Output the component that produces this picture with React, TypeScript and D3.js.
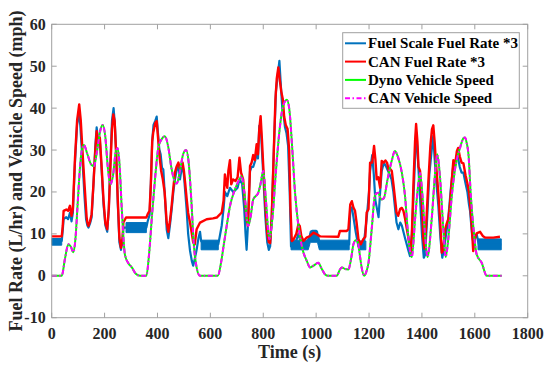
import React from "react";
import * as d3 from "d3";

// ---- data (time s, value) ----
const xTicks = [0, 200, 400, 600, 800, 1000, 1200, 1400, 1600, 1800];
const yTicks = [-10, 0, 10, 20, 30, 40, 50, 60];
const seriesNames = ["Fuel Scale Fuel Rate *3", "CAN Fuel Rate *3", "Dyno Vehicle Speed", "CAN Vehicle Speed"];
const seriesColors = ["#0072BD", "#FF0000", "#00FF00", "#FF00FF"];

const dynoSpeed: [number, number][] = [
  [0,0],[38,0],[50,4],[63,7.5],[72,7],[82,5.6],[90,9],[98,17],[106,25],[114,30],[122,31.2],[135,29],[150,26.5],[160,26.2],[172,30],[185,35],[193,36],[203,33],[212,26],[222,21.8],[232,24],[242,29.5],[249,30.5],[256,27],[265,16],[277,5],[290,3],[303,2],[318,0.5],[334,0],[358,0],[368,5],[380,15],[392,24],[403,30.5],[415,32.5],[428,33.3],[440,31],[452,26],[465,22.5],[473,22],[485,25],[497,29],[508,30],[518,27],[528,18],[538,7],[548,2],[560,0],[628,0],[640,3],[650,7.1],[662,12],[674,16.6],[693,20.6],[710,23],[718,23.8],[728,20],[743,11.9],[752,14],[762,18.2],[781,19.8],[790,22],[800,25],[810,18],[823,8.7],[835,14],[848,25],[862,35],[875,40.5],[889,42],[898,40],[910,30],[920,20],[935,11],[950,6],[965,3.5],[977,2],[992,2.5],[1008,3.1],[1020,1.8],[1034,0.3],[1045,0],[1078,0],[1090,1.5],[1097,2],[1110,1.6],[1122,1.5],[1132,4],[1141,7.5],[1150,8.5],[1158,8],[1165,5],[1172,2],[1181,0],[1190,1],[1198,3.1],[1210,11],[1223,19.3],[1235,19.8],[1246,18.2],[1256,18.5],[1270,23],[1286,27.5],[1298,29.8],[1308,28.6],[1324,24.6],[1336,19.1],[1346,11.1],[1355,5.9],[1362,4.5],[1374,13.5],[1387,22.3],[1393,24.5],[1402,19.1],[1414,8],[1421,4.5],[1437,13.5],[1450,24.6],[1458,29],[1468,23.8],[1481,11.1],[1490,4.5],[1500,9],[1513,19.1],[1525,25.4],[1544,30.5],[1557,32.8],[1563,33],[1570,31.5],[1576,29],[1585,19],[1594,11.9],[1607,5.1],[1626,3.1],[1645,0],[1702,0]
];
const canSpeed: [number, number][] = dynoSpeed;

const canFuel: [number, number][] = [
  [0,9.4],[38,9.4],[42,12],[45,15.5],[55,15.8],[62,15.5],[69,16.7],[75,14.3],[80,16],[88,28],[96,37],[104,40.9],[110,37],[118,28],[126,20],[132,14],[135,12.7],[139,11.9],[145,13],[151,14.7],[158,22],[165,30],[170,34.5],[176,31.6],[182,33],[188,27],[196,18],[203,12.5],[210,11.1],[216,16],[222,26],[228,35],[233,38.5],[238,37],[243,30],[250,18],[256,9],[262,6.7],[268,9],[271,12.7],[281,13.9],[358,13.9],[363,14.7],[370,15.5],[375,22],[380,32],[384,34.2],[392,36.5],[397,36.9],[402,33],[407,29],[414,25],[420,23.1],[427,20],[435,12.7],[441,10.5],[447,13],[454,17],[460,21],[466,24.6],[472,26],[479,27],[485,25.4],[490,26],[495,27],[500,25],[505,22],[510,18.6],[516,15],[523,12.7],[530,10],[535,8],[541,7.5],[545,9.5],[548,11.1],[561,12.7],[586,13.5],[610,13.7],[624,13.9],[637,14.7],[643,15.1],[650,18],[655,24.2],[660,22],[664,21],[668,25],[674,27.6],[679,21.8],[686,23],[695,22.6],[703,23.5],[710,28.2],[716,24.6],[724,23],[730,18],[737,13.5],[742,11.9],[746,18],[750,26.2],[756,27],[762,28.8],[768,27.6],[775,31.4],[780,29],[785,35],[790,38.1],[795,32.5],[800,26.2],[808,17],[815,10],[821,8],[826,7.8],[832,14],[840,30],[846,42],[851,47],[857,49.7],[862,47],[868,44],[874,42.1],[879,38],[885,36],[892,35],[898,30],[903,16],[908,8.3],[915,8.7],[925,10],[933,12.3],[938,11.9],[944,9.5],[952,8.3],[964,9.1],[977,9.5],[990,10.3],[1002,9.9],[1015,9.4],[1084,9.3],[1090,10.7],[1116,10.7],[1122,11.1],[1129,17],[1135,17.8],[1141,16.3],[1147,15.5],[1153,12.7],[1160,8.7],[1169,7.5],[1178,8.7],[1186,9.3],[1191,15.1],[1198,15.9],[1204,27],[1212,27],[1219,31],[1224,27.8],[1229,23],[1235,23.5],[1242,21],[1248,27.4],[1256,27],[1262,27.5],[1268,27],[1275,25],[1280,25.5],[1286,25],[1292,22],[1304,15.1],[1310,14.3],[1318,16],[1324,16.2],[1330,15.5],[1336,13.7],[1349,9],[1355,6.7],[1358,5.5],[1362,10],[1368,22],[1374,32],[1378,36.2],[1383,32],[1387,26],[1393,25],[1400,17.1],[1405,9],[1410,6.5],[1416,12],[1424,22],[1432,31],[1438,35],[1443,35.9],[1448,32],[1453,27],[1462,19.8],[1470,12],[1475,5.5],[1480,6],[1488,11.1],[1494,12.5],[1500,13.5],[1506,17],[1512,22],[1519,27.6],[1525,26.2],[1532,29.7],[1537,30.5],[1543,28.5],[1550,27],[1557,26.8],[1565,24],[1572,22],[1578,20],[1582,17.3],[1588,12.3],[1594,5.9],[1600,8.7],[1607,10.1],[1620,10.5],[1630,9.5],[1640,9.1],[1670,9.1],[1695,9.3]
];

const scaleFuel: [number, number][] = [
  [0,8.3],[38,8.3],[42,11],[45,13.5],[55,14],[62,13.5],[69,15],[75,13],[80,15],[88,27],[96,36],[102,39],[108,36],[116,28],[124,19],[130,13.5],[135,12],[139,11.5],[145,12.5],[151,14],[158,22],[165,31],[170,35.4],[176,32],[182,32.5],[188,26],[196,17],[203,12],[210,10.5],[216,16],[222,27],[228,37],[234,40],[239,36],[244,29],[250,17],[256,8],[262,6.2],[268,8.5],[271,11.5],[358,11.5],[363,13],[370,14.5],[375,22],[380,32],[385,36],[392,37],[397,38],[402,34],[407,30.1],[412,29],[417,25.8],[422,25.4],[428,19],[435,11],[441,9],[447,12],[454,16],[460,20],[466,23],[472,25],[479,26.5],[485,23],[490,25],[495,26.5],[500,24],[505,20],[510,16],[516,10],[523,6],[530,3.5],[535,2.4],[541,4],[548,6.2],[555,9],[561,10.5],[565,8.3],[575,7.5],[630,7.5],[637,9.9],[643,12],[650,16],[655,20],[664,19],[674,21],[686,20],[695,20.5],[703,21],[710,23],[720,22],[728,16],[733,10],[737,6.2],[742,12],[746,20],[750,25],[756,26],[762,26],[770,27.6],[775,29.7],[780,28],[785,35.8],[790,36],[795,30],[800,24],[808,14],[815,8],[821,6.2],[826,7],[832,14],[840,30],[848,44],[855,48],[861,51.3],[866,46],[872,40],[876,39],[882,35.5],[888,34],[894,31],[900,20],[905,7],[912,8],[920,7.5],[933,10],[940,8.5],[950,7.5],[965,8],[977,9.5],[985,10.7],[1000,10.7],[1008,9],[1015,7.5],[1125,7.5],[1129,16],[1135,16.3],[1141,14],[1150,10.3],[1160,7],[1170,6.5],[1180,7.5],[1191,13.6],[1200,20],[1204,25],[1212,28.8],[1218,24.2],[1224,18],[1236,14],[1242,20],[1248,25],[1256,27],[1265,26],[1275,24.6],[1285,23],[1292,20],[1304,12.7],[1311,11.1],[1318,12.7],[1324,12],[1336,9],[1349,6],[1355,4.7],[1362,10],[1368,18.5],[1374,28],[1378,34.2],[1383,30],[1390,22],[1400,10],[1407,4.3],[1412,5],[1420,14],[1428,24.2],[1437,30],[1443,33.4],[1448,28],[1455,22],[1462,16.8],[1470,9],[1477,4.3],[1485,7],[1494,11.1],[1500,14],[1510,21.3],[1518,26],[1525,26.2],[1532,28.8],[1537,28],[1543,26],[1550,24.6],[1557,24.6],[1565,22],[1572,20],[1578,17],[1582,15.5],[1590,9.5],[1596,7.5],[1602,9.5],[1607,9.9],[1615,7.5],[1700,7.5]
];

// noisy fuel-scale bands: [t, low, high]
const scaleBands: [number, number, number][][] = [
  [[0,7.3,8.9],[38,7.3,8.9]],
  [[281,10.3,12.7],[358,10.3,12.7]],
  [[565,6.2,8.5],[630,6.2,8.5]],
  [[905,6.2,8.5],[970,6.2,8.5],[978,8,10.7],[1005,8,10.7],[1012,6.2,8.5],[1125,6.2,8.5]],
  [[1160,6.2,8.3],[1188,6.2,8.3]],
  [[1612,6.2,8.8],[1700,6.2,8.8]],
];

const W = 545, H = 369;
const FONT = "'Liberation Serif', 'Times New Roman', serif";

export default function App() {
  const x = d3.scaleLinear().domain([0, 1800]).range([51.7, 527.7]);
  const y = d3.scaleLinear().domain([-10, 60]).range([317.7, 24.3]);
  const line = d3.line<[number, number]>().x(d => x(d[0])).y(d => y(d[1]));
  const smooth = d3.line<[number, number]>().x(d => x(d[0])).y(d => y(d[1])).curve(d3.curveMonotoneX);
  const band = d3.area<[number, number, number]>().x(d => x(d[0])).y0(d => y(d[1])).y1(d => y(d[2]));
  const [x0, x1] = x.range();
  const [yb, yt] = y.range();
  const axisColor = "#a0a0a0";
  const tickLen = 5;
  const legendRows = [
    { name: seriesNames[0], color: seriesColors[0], dash: undefined },
    { name: seriesNames[1], color: seriesColors[1], dash: undefined },
    { name: seriesNames[2], color: seriesColors[2], dash: undefined },
    { name: seriesNames[3], color: seriesColors[3], dash: "5,2.5,1.5,2.5" },
  ];
  return (
    <svg width={W} height={H} style={{ display: "block", background: "#fff" }}>
      <style>{"body{margin:0}"}</style>
      <rect x={0} y={0} width={W} height={H} fill="#fff" />
      <g>
        {scaleBands.map((b, i) => (
          <path key={"b" + i} d={band(b) || ""} fill={seriesColors[0]} stroke={seriesColors[0]} strokeWidth={1} />
        ))}
        <path d={line(scaleFuel) || ""} fill="none" stroke={seriesColors[0]} strokeWidth={2.2} strokeLinejoin="round" />
        <path d={line(canFuel) || ""} fill="none" stroke={seriesColors[1]} strokeWidth={2.4} strokeLinejoin="round" />
        <path d={smooth(dynoSpeed) || ""} fill="none" stroke={seriesColors[2]} strokeWidth={2} />
        <path d={smooth(canSpeed) || ""} fill="none" stroke={seriesColors[3]} strokeWidth={2} strokeDasharray="5,2.5,1.5,2.5" />
      </g>
      {/* box */}
      <rect x={x0} y={yt} width={x1 - x0} height={yb - yt} fill="none" stroke={axisColor} strokeWidth={1} />
      {xTicks.map(t => (
        <g key={"xt" + t}>
          <line x1={x(t)} x2={x(t)} y1={yb} y2={yb - tickLen} stroke={axisColor} />
          <line x1={x(t)} x2={x(t)} y1={yt} y2={yt + tickLen} stroke={axisColor} />
          <text x={x(t)} y={yb + 21} textAnchor="middle" fontFamily={FONT} fontWeight="bold" fontSize={16} fill="#262626">{t}</text>
        </g>
      ))}
      {yTicks.map(v => (
        <g key={"yt" + v}>
          <line x1={x0} x2={x0 + tickLen} y1={y(v)} y2={y(v)} stroke={axisColor} />
          <line x1={x1} x2={x1 - tickLen} y1={y(v)} y2={y(v)} stroke={axisColor} />
          <text x={x0 - 6} y={y(v) + 5.5} textAnchor="end" fontFamily={FONT} fontWeight="bold" fontSize={16} fill="#262626">{v}</text>
        </g>
      ))}
      <text x={(x0 + x1) / 2} y={358} textAnchor="middle" fontFamily={FONT} fontWeight="bold" fontSize={18} fill="#262626">Time (s)</text>
      <text transform={`translate(22,${(yt + yb) / 2}) rotate(-90)`} textAnchor="middle" fontFamily={FONT} fontWeight="bold" fontSize={18} fill="#262626">Fuel Rate (L/hr) and Vehicle Speed (mph)</text>
      {/* legend */}
      <rect x={342.7} y={32.7} width={176.6} height={75.6} fill="#fff" stroke={axisColor} />
      {legendRows.map((r, i) => (
        <g key={"lg" + i}>
          <line x1={345} x2={366} y1={43.3 + i * 18.3} y2={43.3 + i * 18.3} stroke={r.color} strokeWidth={2} strokeDasharray={r.dash} />
          <text x={368} y={43.3 + i * 18.3 + 5} fontFamily={FONT} fontWeight="bold" fontSize={15} fill="#000">{r.name}</text>
        </g>
      ))}
    </svg>
  );
}
